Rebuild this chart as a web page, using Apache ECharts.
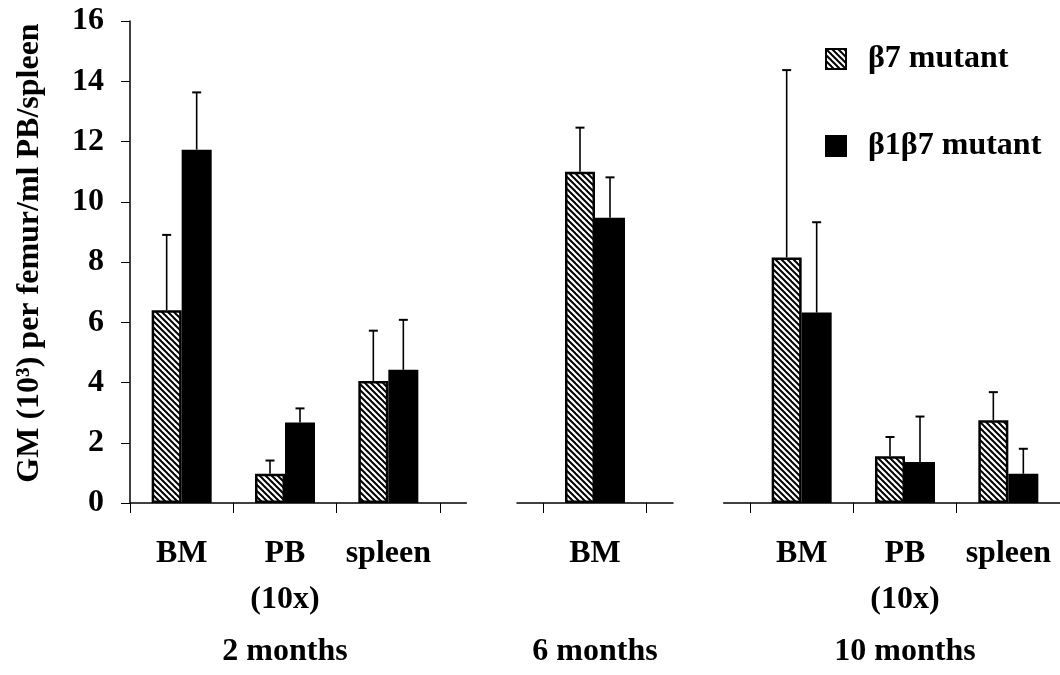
<!DOCTYPE html>
<html>
<head>
<meta charset="utf-8">
<script src="https://cdn.jsdelivr.net/npm/echarts@6/dist/echarts.min.js"></script>
<style>html,body{margin:0;padding:0;background:#fff}#c{width:1060px;height:675px}</style>
</head>
<body>
<div id="c"></div>
<script>
// ---- data ----
const categories = ['BM', 'PB\n(10x)', 'spleen', '', 'BM', '', 'BM', 'PB\n(10x)', 'spleen'];
const groupLabels = ['', '2 months', '', '', '6 months', '', '', '10 months', ''];
const seriesNames = ['β7 mutant', 'β1β7 mutant'];
const beta7Values   = [6.4, 0.97, 4.05, null, 11.0, null, 8.15, 1.55, 2.75];
const beta7Errors   = [2.5, 0.44, 1.67, null, 1.46, null, 6.22, 0.64, 0.93];
const beta1b7Values = [11.73, 2.67, 4.42, null, 9.47, null, 6.32, 1.36, 0.97];
const beta1b7Errors = [1.9, 0.47, 1.66, null, 1.34, null, 3.0, 1.51, 0.83];
const yTitle = 'GM (10³) per femur/ml PB/spleen';

// ---- style ----
const FONT = "'Liberation Serif', 'Times New Roman', serif";
const BAR_W = 30;

function hatchCanvas() {
  const c = document.createElement('canvas');
  c.width = 6; c.height = 6;
  const g = c.getContext('2d');
  g.fillStyle = '#fff'; g.fillRect(0, 0, 6, 6);
  g.strokeStyle = '#000'; g.lineWidth = 2;
  for (const o of [-6, 0, 6]) {
    g.beginPath(); g.moveTo(o - 1, -1); g.lineTo(o + 7, 7); g.stroke();
  }
  return c;
}
const hatch = { image: hatchCanvas(), repeat: 'repeat' };

function errData(vals, errs) {
  const out = [];
  vals.forEach((v, i) => { if (v != null) out.push([i, v, errs[i]]); });
  return out;
}
function errRender(offset) {
  return function (params, api) {
    const i = api.value(0), v = api.value(1), e = api.value(2);
    const base = api.coord([i, v]);
    const top = api.coord([i, v + e]);
    const x = base[0] + offset;
    const st = { stroke: '#000', lineWidth: 1.6 };
    return { type: 'group', children: [
      { type: 'line', shape: { x1: x, y1: base[1], x2: x, y2: top[1] }, style: st },
      { type: 'line', shape: { x1: x - 4.5, y1: top[1], x2: x + 4.5, y2: top[1] }, style: { stroke: '#000', lineWidth: 2 } }
    ]};
  };
}

const chart = echarts.init(document.getElementById('c'), null, { renderer: 'canvas' });
const option = {
  animation: false,
  backgroundColor: '#fff',
  textStyle: { fontFamily: FONT },
  grid: { left: 130, width: 936, top: 21, height: 485 },
  legend: {
    data: seriesNames,
    orient: 'vertical',
    left: 820, top: 38,
    icon: 'rect',
    itemWidth: 20, itemHeight: 20,
    itemGap: 55,
    textStyle: { fontFamily: FONT, fontWeight: 'bold', fontSize: 32, color: '#000', lineHeight: 24, padding: [0, 0, 0, 17] }
  },
  xAxis: [{
    type: 'category',
    data: categories,
    axisLine: { show: false },
    axisTick: { show: true, length: 10, lineStyle: { color: '#000', width: 1 } },
    axisLabel: { interval: 0, margin: 28, color: '#000', fontFamily: FONT, fontWeight: 'bold', fontSize: 32, lineHeight: 46 }
  }, {
    type: 'category',
    data: groupLabels,
    position: 'bottom',
    offset: 100,
    axisLine: { show: false },
    axisTick: { show: false },
    axisLabel: { interval: 0, margin: 26, color: '#000', fontFamily: FONT, fontWeight: 'bold', fontSize: 32, lineHeight: 46 }
  }],
  yAxis: {
    type: 'value', min: 0, max: 16, interval: 2,
    name: yTitle, nameLocation: 'middle', nameGap: 84, nameRotate: 90,
    nameTextStyle: { color: '#000', fontFamily: FONT, fontWeight: 'bold', fontSize: 32, padding: [0, 0, 0, 18] },
    axisLine: { show: true, lineStyle: { color: '#000', width: 1.5 } },
    axisTick: { show: true, length: 9, lineStyle: { color: '#000', width: 1 } },
    splitLine: { show: false },
    axisLabel: { margin: 26, color: '#000', fontFamily: FONT, fontWeight: 'bold', fontSize: 32 }
  },
  series: [{
    name: seriesNames[0], type: 'bar', data: beta7Values, barWidth: BAR_W, barGap: '0%',
    itemStyle: { color: hatch, borderColor: '#000', borderWidth: 2.5 }
  }, {
    name: seriesNames[1], type: 'bar', data: beta1b7Values, barWidth: BAR_W, barGap: '0%',
    itemStyle: { color: '#000', borderColor: '#000', borderWidth: 2 }
  }, {
    name: 'err0', type: 'custom', data: errData(beta7Values, beta7Errors),
    encode: { x: 0, y: 1 }, renderItem: errRender(-BAR_W / 2), z: 3
  }, {
    name: 'err1', type: 'custom', data: errData(beta1b7Values, beta1b7Errors),
    encode: { x: 0, y: 1 }, renderItem: errRender(BAR_W / 2), z: 3
  }]
};
chart.setOption(option);

// broken x-axis line: one segment per group of non-empty categories
(function () {
  const px = i => chart.convertToPixel({ xAxisIndex: 0 }, i);
  const cw = px(1) - px(0);
  const y0 = chart.convertToPixel({ yAxisIndex: 0 }, 0);
  const leftEdge = px(0) - cw / 2;
  const rightEdge = px(categories.length - 1) + cw / 2;
  const ext = 0.26 * cw;
  const runs = [];
  let s = null;
  categories.forEach((c, i) => {
    if (c !== '' && s === null) s = i;
    if (c === '' && s !== null) { runs.push([s, i - 1]); s = null; }
  });
  if (s !== null) runs.push([s, categories.length - 1]);
  const g = runs.map(([a, b]) => {
    let x1 = px(a) - cw / 2 - ext, x2 = px(b) + cw / 2 + ext;
    if (x1 < leftEdge) x1 = leftEdge;
    if (x2 > rightEdge) x2 = rightEdge;
    return { type: 'line', shape: { x1, y1: y0, x2, y2: y0 }, style: { stroke: '#000', lineWidth: 1.5 }, z: 10 };
  });
  chart.setOption({ graphic: g });
})();
</script>
</body>
</html>
